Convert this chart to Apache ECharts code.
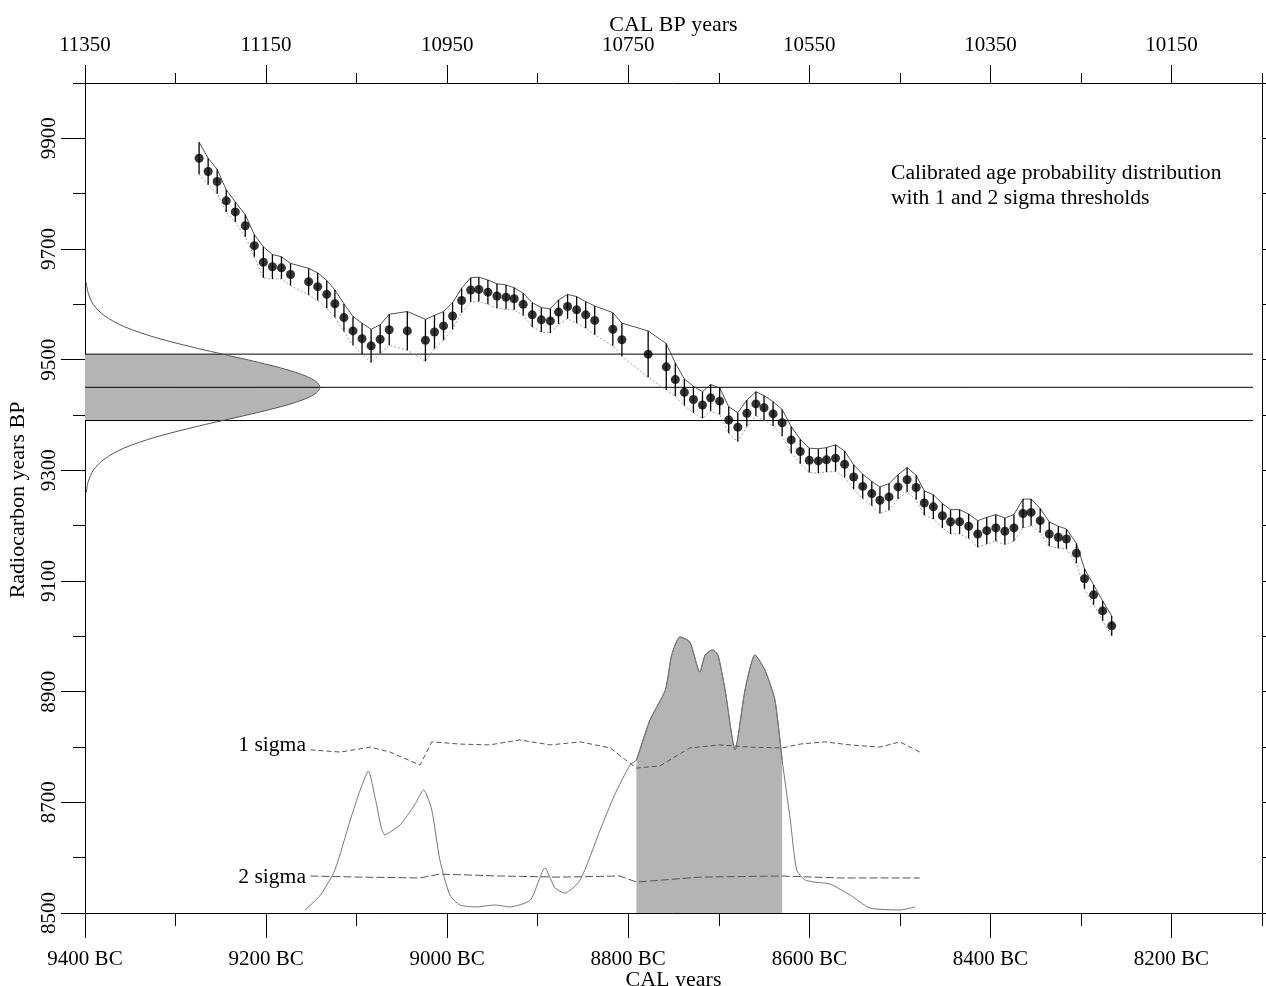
<!DOCTYPE html>
<html><head><meta charset="utf-8">
<script src="https://cdn.jsdelivr.net/npm/echarts@6/dist/echarts.min.js"></script>
<style>html,body{margin:0;padding:0;background:#fff}#c{width:1266px;height:986px}</style>
</head><body><div id="c"></div>
<script>
// ---- Calibration curve (decadal points) ----
const calYearsBC = [9274,9264,9254,9244,9234,9223,9213,9203,9193,9183,9173,9153,9143,9133,9124,9114,9104,9094,9084,9074,9064,9044,9024,9014,9004,8994,8984,8974,8965,8955,8945,8935,8926,8916,8906,8896,8886,8877,8867,8857,8847,8837,8817,8807,8778,8758,8748,8738,8728,8718,8709,8699,8689,8679,8669,8659,8650,8640,8630,8620,8610,8600,8590,8581,8571,8561,8551,8541,8531,8522,8512,8502,8492,8482,8473,8463,8453,8444,8434,8424,8414,8404,8394,8384,8374,8364,8355,8345,8335,8325,8316,8305,8296,8286,8276,8266];
const c14Ages = [9864,9840,9822,9787,9767,9742,9706,9676,9668,9666,9654,9641,9632,9618,9601,9576,9552,9538,9525,9537,9554,9552,9535,9550,9561,9579,9607,9626,9627,9622,9615,9613,9610,9600,9581,9572,9570,9586,9596,9590,9581,9571,9555,9536,9510,9487,9464,9441,9428,9418,9431,9425,9391,9378,9403,9420,9413,9402,9386,9355,9334,9318,9317,9319,9322,9311,9288,9271,9258,9246,9252,9270,9283,9269,9241,9234,9218,9207,9207,9199,9185,9191,9196,9190,9196,9222,9224,9209,9185,9179,9176,9150,9104,9075,9046,9019];
const c14Errors = [29,24,22,20,18,20,20,28,22,20,20,24,25,25,25,25,26,28,30,26,28,35,38,30,26,24,22,22,22,22,22,22,20,20,22,22,22,22,22,24,24,26,30,30,42,42,30,24,24,24,24,24,24,26,24,22,22,22,24,24,22,22,22,22,24,24,22,22,22,24,24,22,22,22,22,22,22,22,22,22,24,24,24,24,24,26,24,22,22,20,18,18,18,18,18,18];

// ---- Measured radiocarbon age (left distribution) ----
const measuredLevels = [9510, 9450, 9390];
const densityC14 = [9640,9620,9600,9580,9560,9540,9520,9510,9500,9490,9480,9470,9460,9450,9440,9430,9420,9410,9400,9390,9380,9360,9340,9320,9300,9280,9260];
const densityRel = [0.005,0.014,0.035,0.081,0.165,0.300,0.483,0.586,0.690,0.788,0.875,0.942,0.985,1.0,0.985,0.942,0.875,0.788,0.690,0.586,0.483,0.300,0.165,0.081,0.035,0.014,0.005];

// ---- Calibrated probability distribution (bottom) ----
const probYearsBC = [9157,9140,9124,9107,9096,9087,9079,9069,9052,9036,9026,9017,9008,8997,8986,8969,8947,8931,8908,8892,8881,8870,8853,8831,8815,8798,8791,8776,8759,8752,8743,8732,8721,8715,8707,8701,8693,8682,8671,8660,8649,8638,8630,8621,8614,8605,8594,8577,8555,8533,8500,8483];
const probRel = [0.011,0.065,0.156,0.337,0.446,0.514,0.409,0.283,0.319,0.391,0.446,0.373,0.192,0.065,0.029,0.022,0.029,0.022,0.047,0.163,0.091,0.072,0.120,0.301,0.428,0.536,0.554,0.699,0.808,0.935,1.0,0.982,0.873,0.935,0.953,0.935,0.808,0.591,0.808,0.935,0.880,0.772,0.554,0.337,0.156,0.120,0.112,0.105,0.065,0.018,0.011,0.022];
const shadedRangeBC = [8791, 8630];
const sigma1YearsBC = [9151,9118,9085,9063,9030,9017,8986,8953,8920,8886,8853,8820,8791,8765,8732,8699,8666,8630,8610,8583,8555,8522,8500,8478];
const sigma1Level = [0.591,0.583,0.601,0.583,0.536,0.620,0.612,0.609,0.627,0.609,0.620,0.598,0.525,0.533,0.598,0.609,0.601,0.598,0.612,0.620,0.609,0.601,0.620,0.583];
const sigma2YearsBC = [9151,9096,9030,9008,8942,8875,8809,8791,8721,8632,8566,8478];
const sigma2Level = [0.134,0.130,0.127,0.141,0.134,0.130,0.134,0.112,0.130,0.134,0.127,0.127];

// ---- Tick labels ----
const bottomTickLabelsBC = [9400,9200,9000,8800,8600,8400,8200];
const topTickLabelsBP = [11350,11150,10950,10750,10550,10350,10150];
const leftTickLabels = [8500,8700,8900,9100,9300,9500,9700,9900];

const FONT = 'Liberation Serif';
const X = bc => -bc;
const chart = echarts.init(document.getElementById('c'), null, {renderer: 'canvas'});

const curve = calYearsBC.map((y, i) => [X(y), c14Ages[i]]);
const upper = calYearsBC.map((y, i) => [X(y), c14Ages[i] + c14Errors[i]]);
const lower = calYearsBC.map((y, i) => [X(y), c14Ages[i] - c14Errors[i]]);
const bars = calYearsBC.map((y, i) => [X(y), c14Ages[i] - c14Errors[i], c14Ages[i] + c14Errors[i]]);
const gauss = densityC14.map((v, i) => [densityRel[i], v]);
const gaussShade = gauss.filter(p => p[1] <= measuredLevels[0] && p[1] >= measuredLevels[2]);
const prob = probYearsBC.map((y, i) => [X(y), probRel[i]]);
const probShade = prob.filter(p => -p[0] <= shadedRangeBC[0] && -p[0] >= shadedRangeBC[1]);
const s1 = sigma1YearsBC.map((y, i) => [X(y), sigma1Level[i]]);
const s2 = sigma2YearsBC.map((y, i) => [X(y), sigma2Level[i]]);

const axisLine = {show: true, lineStyle: {color: '#000', width: 1}};
const lbl = {fontFamily: FONT, fontSize: 21, color: '#000'};
const nameStyle = {fontFamily: FONT, fontSize: 22, color: '#000'};
const xMin = X(9400), xMax = X(8100);

const option = {
  animation: false,
  backgroundColor: '#fff',
  grid: {left: 85, right: 4, top: 83, bottom: 73, containLabel: false, outerBoundsMode: 'none'},
  xAxis: [
    {type: 'value', position: 'bottom', min: xMin, max: xMax, interval: 100,
     axisLine, axisTick: {show: true, length: 13, lineStyle: {color: '#000'}},
     axisLabel: {show: false}, splitLine: {show: false},
     name: 'CAL years', nameLocation: 'middle', nameGap: 56, nameTextStyle: nameStyle},
    {type: 'value', position: 'bottom', min: xMin, max: xMax,
     axisLine: {show: false},
     axisTick: {show: true, length: 25, lineStyle: {color: '#000'}, customValues: bottomTickLabelsBC.map(X)},
     axisLabel: Object.assign({show: true, margin: 36, customValues: bottomTickLabelsBC.map(X), formatter: v => (-v) + ' BC'}, lbl),
     splitLine: {show: false}},
    {type: 'value', position: 'top', min: xMin, max: xMax, interval: 100,
     axisLine, axisTick: {show: true, length: 10, lineStyle: {color: '#000'}},
     axisLabel: {show: false}, splitLine: {show: false},
     name: 'CAL BP years', nameLocation: 'middle', nameGap: 47, nameTextStyle: nameStyle},
    {type: 'value', position: 'top', min: xMin, max: xMax,
     axisLine: {show: false},
     axisTick: {show: true, length: 18, lineStyle: {color: '#000'}, customValues: topTickLabelsBP.map(b => X(b - 1950))},
     axisLabel: Object.assign({show: true, margin: 27, customValues: topTickLabelsBP.map(b => X(b - 1950)), formatter: v => String(-v + 1950)}, lbl),
     splitLine: {show: false}},
    {type: 'value', show: false, min: 0, max: 5.01}
  ],
  yAxis: [
    {type: 'value', position: 'left', min: 8500, max: 10000, interval: 100,
     axisLine, axisTick: {show: true, length: 12, lineStyle: {color: '#000'}},
     axisLabel: {show: false}, splitLine: {show: false}},
    {type: 'value', position: 'left', min: 8500, max: 10000,
     axisLine: {show: false},
     axisTick: {show: true, length: 24, lineStyle: {color: '#000'}, customValues: leftTickLabels},
     axisLabel: Object.assign({show: true, margin: 25, rotate: 90, customValues: leftTickLabels, formatter: v => String(v)}, lbl),
     splitLine: {show: false}},
    {type: 'value', position: 'right', min: 8500, max: 10000, interval: 100,
     axisLine, axisTick: {show: true, length: 10, lineStyle: {color: '#000'}},
     axisLabel: {show: false}, splitLine: {show: false}},
    {type: 'value', show: false, min: 0, max: 3.007}
  ],
  graphic: [
    {type: 'text', x: 18, y: 500, rotation: Math.PI / 2,
     style: {text: 'Radiocarbon years BP', font: '22px "Liberation Serif"', fill: '#000', align: 'center', verticalAlign: 'middle'}},
    {type: 'text', x: 891, y: 173, style: {text: 'Calibrated age probability distribution', font: '21.6px "Liberation Serif"', fill: '#000', verticalAlign: 'middle'}},
    {type: 'text', x: 891, y: 198, style: {text: 'with 1 and 2 sigma thresholds', font: '21.6px "Liberation Serif"', fill: '#000', verticalAlign: 'middle'}},
    {type: 'text', x: 306, y: 745, style: {text: '1 sigma', font: '21.6px "Liberation Serif"', fill: '#000', align: 'right', verticalAlign: 'middle'}},
    {type: 'text', x: 306, y: 877, style: {text: '2 sigma', font: '21.6px "Liberation Serif"', fill: '#000', align: 'right', verticalAlign: 'middle'}}
  ],
  series: [
    ...measuredLevels.map(v => ({type: 'line', xAxisIndex: 0, yAxisIndex: 0, data: [[xMin, v], [X(8110), v]],
      symbol: 'none', lineStyle: {color: '#000', width: 1}, z: 3, silent: true})),
    {type: 'custom', xAxisIndex: 4, yAxisIndex: 0, data: [0], z: 2,
     renderItem: (params, api) => {
       const pts = gaussShade.map(p => api.coord(p));
       pts.unshift(api.coord([0, gaussShade[0][1]]));
       pts.push(api.coord([0, gaussShade[gaussShade.length - 1][1]]));
       return {type: 'polygon', shape: {points: pts}, style: {fill: '#b4b4b4', stroke: 'none'}};
     }},
    {type: 'line', xAxisIndex: 4, yAxisIndex: 0, data: gauss, symbol: 'none', smooth: 0.3,
     lineStyle: {color: '#555', width: 1}, z: 3},
    {type: 'line', xAxisIndex: 0, yAxisIndex: 0, data: upper, symbol: 'none', lineStyle: {color: '#222', width: 0.8}, z: 4},
    {type: 'line', xAxisIndex: 0, yAxisIndex: 0, data: lower, symbol: 'none', lineStyle: {color: '#888', width: 0.8, type: [2, 2]}, z: 4},
    {type: 'custom', xAxisIndex: 0, yAxisIndex: 0, data: bars, z: 5,
     encode: {x: 0, y: [1, 2]},
     renderItem: (params, api) => {
       const a = api.coord([api.value(0), api.value(1)]);
       const b = api.coord([api.value(0), api.value(2)]);
       return {type: 'line', shape: {x1: a[0], y1: a[1], x2: b[0], y2: b[1]}, style: {stroke: '#000', lineWidth: 1.3}};
     }},
    {type: 'scatter', xAxisIndex: 0, yAxisIndex: 0, data: curve, symbol: 'circle', symbolSize: 9,
     itemStyle: {color: '#000'}, z: 6},
    {type: 'line', xAxisIndex: 0, yAxisIndex: 3, data: probShade, symbol: 'none', smooth: 0.2,
     lineStyle: {color: '#666', width: 1}, areaStyle: {color: '#b4b4b4', opacity: 1}, z: 2},
    {type: 'line', xAxisIndex: 0, yAxisIndex: 3, data: prob, symbol: 'none', smooth: 0.2,
     lineStyle: {color: '#777', width: 1}, z: 3},
    {type: 'line', xAxisIndex: 0, yAxisIndex: 3, data: s1, symbol: 'none',
     lineStyle: {color: '#555', width: 1, type: [5, 3]}, z: 4},
    {type: 'line', xAxisIndex: 0, yAxisIndex: 3, data: s2, symbol: 'none',
     lineStyle: {color: '#555', width: 1, type: [8, 3]}, z: 4}
  ]
};
chart.setOption(option);
</script>
</body></html>
